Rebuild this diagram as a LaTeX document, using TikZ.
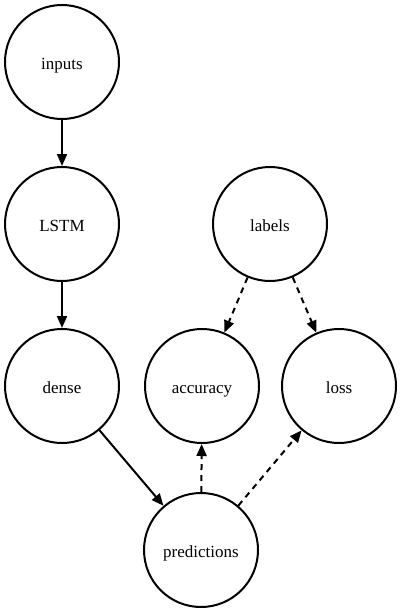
\documentclass[tikz,border=0pt]{standalone}
\usepackage{fontspec}
\setmainfont{Liberation Serif}
\usetikzlibrary{arrows.meta}
\begin{document}
\begin{tikzpicture}[x=1pt,y=-1pt,
  nd/.style={circle,draw,line width=2pt,minimum size=114pt,inner sep=0pt,text height=15pt,text depth=1pt,font=\fontsize{17}{20}\selectfont},
  conn/.style={line width=2pt,-{Triangle[length=12pt,width=10pt]}},
  dconn/.style={conn,dash pattern=on 6pt off 5pt}]
\useasboundingbox (0,0) rectangle (403,613);
\node[nd] (inputs) at (62,62) {inputs};
\node[nd] (lstm) at (62,224) {LSTM};
\node[nd] (dense) at (62,386) {dense};
\node[nd] (labels) at (270,224) {labels};
\node[nd] (accuracy) at (202,386) {accuracy};
\node[nd] (loss) at (339,386) {loss};
\node[nd] (predictions) at (201,550) {predictions};
\draw[conn] (inputs) -- (lstm);
\draw[conn] (lstm) -- (dense);
\draw[conn] (dense) -- (predictions);
\draw[dconn] (labels) -- (accuracy);
\draw[dconn] (labels) -- (loss);
\draw[dconn] (predictions) -- (accuracy);
\draw[dconn] (predictions) -- (loss);
\end{tikzpicture}
\end{document}
